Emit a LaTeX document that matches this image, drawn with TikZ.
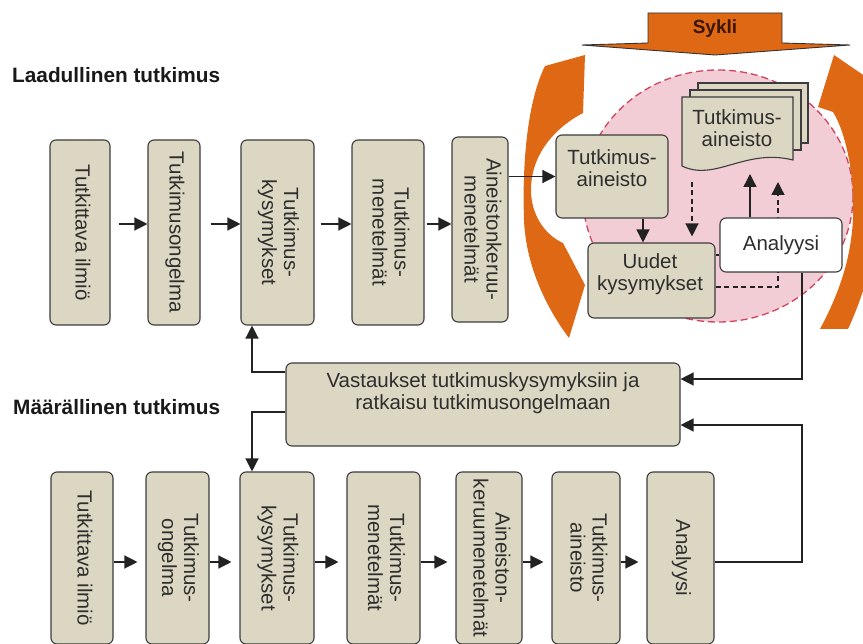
\documentclass[tikz,border=0pt]{standalone}
\usepackage{fontspec}
\setmainfont{Liberation Sans}
\usepackage{graphicx}
\usetikzlibrary{arrows.meta}

\definecolor{boxfill}{HTML}{DCD7C2}
\definecolor{boxline}{HTML}{3C3C3C}
\definecolor{txtcol}{HTML}{2E2E2E}
\definecolor{linecol}{HTML}{222222}
\definecolor{cyc}{HTML}{DE6814}
\definecolor{pinkfill}{HTML}{F3CDD5}
\definecolor{pinkline}{HTML}{D2435E}
\definecolor{syklitxt}{HTML}{3A1606}

% text set top-to-bottom inside a standing box
\newcommand{\rottext}[1]{\rotatebox{-90}{\begin{tabular}{@{}c@{}}#1\end{tabular}}}

\begin{document}
\begin{tikzpicture}[x=1pt,y=-1pt,
  txt/.style={font=\fontsize{20.5}{22}\selectfont, text=txtcol, inner sep=0pt},
  box/.style={draw=boxline, fill=boxfill, rounded corners=6pt, line width=1.1pt,
    inner sep=0pt, align=center, font=\fontsize{20.5}{22}\selectfont, text=txtcol},
  wbox/.style={box, fill=white},
  lbl/.style={font=\fontsize{20.8}{24}\selectfont\bfseries, text=black!90, inner sep=0pt},
  link/.style={line width=1.3pt, draw=linecol},
  conn/.style={link, -{Triangle[length=13pt,width=13pt]}},
  dconn/.style={conn, dash pattern=on 5pt off 3.5pt},
  docshape/.style={fill=boxfill, draw=boxline, line width=1.1pt}
]
\useasboundingbox (0,0) rectangle (863,644);
\clip (0,0) rectangle (863,644);

% section headings
\node[lbl, anchor=base west] (qual) at (12,83) {Laadullinen tutkimus};
\node[lbl, anchor=base west] (quant) at (13,415) {Määrällinen tutkimus};

% cycle background
\filldraw[fill=pinkfill, draw=pinkline, line width=1.3pt, dash pattern=on 7pt off 4pt]
  (718,196) ellipse [x radius=135pt, y radius=126pt];

% curved cycle arrows
\fill[cyc] (585,55) -- (583,113) .. controls (558,126) and (531,152) .. (531,190)
  .. controls (531,215) and (545,235) .. (563,243) -- (585,285) -- (569,338)
  .. controls (548,310) and (526,268) .. (524,220)
  .. controls (522,160) and (528,100) .. (545,66) -- cycle;
\fill[cyc] (820,329) .. controls (840,292) and (855,250) .. (853,200)
  .. controls (852,160) and (843,128) .. (833,112) -- (818,107) -- (834,55)
  -- (888,92) -- (872,112) .. controls (890,180) and (878,265) .. (848,329) -- cycle;

% banner
\filldraw[fill=cyc, draw=black!80, line width=0.9pt]
  (648,13) -- (782,13) -- (782,43) -- (850,45) -- (715,55) -- (582,45) -- (648,43) -- cycle;
\node[lbl, font=\fontsize{19}{22}\selectfont\bfseries, text=syklitxt] (sykli) at (715,29) {Sykli};

% qualitative chain
\coordinate (rowA) at (0,224);
\node[box, minimum width=60pt, minimum height=185pt] (t1) at (80,232.5) {\rottext{Tutkittava ilmiö}};
\node[box, minimum width=52pt, minimum height=185pt] (t2) at (174,232.5) {\rottext{Tutkimusongelma}};
\node[box, minimum width=73pt, minimum height=185pt] (t3) at (277.5,232.5) {\rottext{Tutkimus-\\kysymykset}};
\node[box, minimum width=72pt, minimum height=185pt] (t4) at (388,232.5) {\rottext{Tutkimus-\\menetelmät}};
\node[box, minimum width=56pt, minimum height=185pt] (t5) at (480,229.5) {\rottext{Aineistonkeruu-\\menetelmät}};

\draw[conn, shorten <=8pt] (t1.east |- rowA) -- (t2.west |- rowA);
\draw[conn, shorten <=10pt] (t2.east |- rowA) -- (t3.west |- rowA);
\draw[conn, shorten <=6pt] (t3.east |- rowA) -- (t4.west |- rowA);
\draw[conn, shorten <=2pt] (t4.east |- rowA) -- (t5.west |- rowA);

% quantitative chain
\coordinate (rowB) at (0,562);
\node[box, minimum width=62pt, minimum height=172pt] (b1) at (82,558) {\rottext{Tutkittava ilmiö}};
\node[box, minimum width=63pt, minimum height=172pt] (b2) at (177.5,558) {\rottext{Tutkimus-\\ongelma}};
\node[box, minimum width=74pt, minimum height=172pt] (b3) at (277,558) {\rottext{Tutkimus-\\kysymykset}};
\node[box, minimum width=73pt, minimum height=172pt] (b4) at (383.5,558) {\rottext{Tutkimus-\\menetelmät}};
\node[box, minimum width=66pt, minimum height=172pt] (b5) at (489,558) {\rottext{Aineiston-\\keruumenetelmät}};
\node[box, minimum width=68pt, minimum height=172pt] (b6) at (586,558) {\rottext{Tutkimus-\\aineisto}};
\node[box, minimum width=67pt, minimum height=172pt] (b7) at (680.5,558) {\rottext{Analyysi}};

\draw[conn, shorten >=8pt] (b1.east |- rowB) -- (b2.west |- rowB);
\draw[conn, shorten >=8pt] (b2.east |- rowB) -- (b3.west |- rowB);
\draw[conn, shorten >=8pt] (b3.east |- rowB) -- (b4.west |- rowB);
\draw[conn, shorten >=8pt] (b4.east |- rowB) -- (b5.west |- rowB);
\draw[conn, shorten >=8pt] (b5.east |- rowB) -- (b6.west |- rowB);
\draw[conn, shorten >=8pt] (b6.east |- rowB) -- (b7.west |- rowB);

% answers box
\node[box, minimum width=394pt, minimum height=83pt] (vast) at (483,404.5) {};
\node[txt, align=center] (vasttxt) at (483,393) {Vastaukset tutkimuskysymyksiin ja\\ratkaisu tutkimusongelmaan};

% cycle contents
\node[box, minimum width=112pt, minimum height=83pt] (ta) at (612,176.5) {};
\node[txt, align=center] (tatxt) at (612,168) {Tutkimus-\\aineisto};

\filldraw[docshape] (698,83) rectangle (808,143);
\filldraw[docshape] (690,90) rectangle (801,150);
\filldraw[docshape] (682,97) -- (793,97) -- (793,160)
  .. controls (745,148) and (715,182) .. (682,166) -- cycle;
\node[txt, align=center] (docs) at (737,128) {Tutkimus-\\aineisto};

\node[box, minimum width=127pt, minimum height=75pt] (uq) at (651.5,280.5) {};
\node[txt, align=center] (uqtxt) at (650,274) {Uudet\\kysymykset};

% dashed return path runs beneath the analysis box
\coordinate (c4) at (778,182);
\coordinate (c5) at (0,287);
\draw[dconn] (uq.east |- c5) -| (c4);

\node[wbox, minimum width=122pt, minimum height=54pt] (ana) at (781,245) {Analyysi};

\coordinate (c1) at (643,0);
\coordinate (c2) at (692,182);
\coordinate (c3) at (750,174);
\coordinate (c6) at (0,255);
\draw[conn] (ta.south -| c1) -- (uq.north -| c1);
\draw[dconn, shorten >=6pt] (c2) -- (c2 |- uq.north);
\draw[conn] (ana.north -| c3) -- (c3);
\draw[link] (uq.east |- c6) -- (ana.west |- c6);
\draw[conn] (t5.east |- ta.west) -- (ta.west);

% links to and from the answers box
\coordinate (rxhigh) at (802,379);
\coordinate (rxlow) at (802,425);
\coordinate (lxup) at (252,372);
\coordinate (lxdn) at (252,412);
\draw[conn] (ana.south -| rxhigh) -- (rxhigh) -- (vast.east |- rxhigh);
\draw[conn] (b7.east |- rowB) -| (rxlow) -- (vast.east |- rxlow);
\draw[conn] (vast.west |- lxup) -- (lxup) -- (lxup |- t3.south);
\draw[conn] (vast.west |- lxdn) -- (lxdn) -- (lxdn |- b3.north);
\end{tikzpicture}
\end{document}
